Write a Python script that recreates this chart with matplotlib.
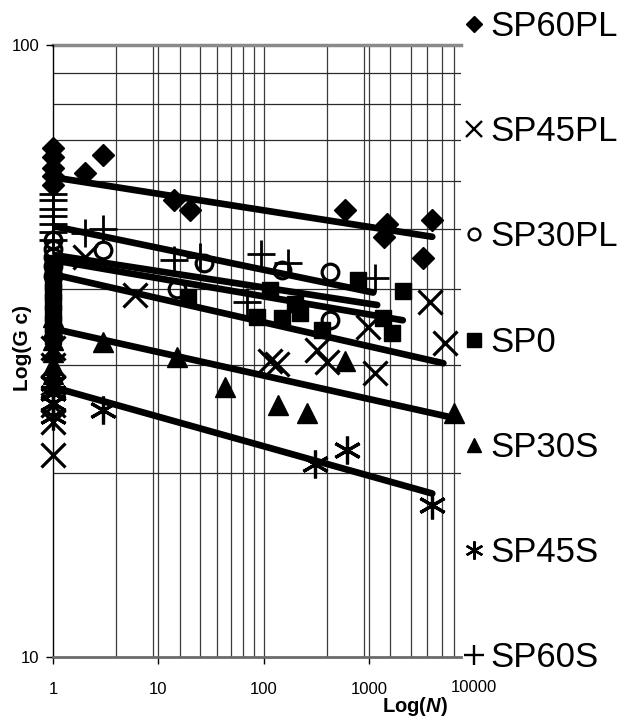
import matplotlib
matplotlib.use("Agg")
import matplotlib.pyplot as plt
from matplotlib.lines import Line2D
import numpy as np

plt.rcParams['font.family'] = ['Liberation Sans', 'DejaVu Sans']
plt.rcParams['mathtext.fontset'] = 'custom'
plt.rcParams['mathtext.rm'] = 'Liberation Sans:bold'
plt.rcParams['mathtext.it'] = 'Liberation Sans:bold:italic'
plt.rcParams['mathtext.bf'] = 'Liberation Sans:bold'

# ---------------- data ----------------
series_names = ["SP60PL", "SP45PL", "SP30PL", "SP0", "SP30S", "SP45S", "SP60S"]

sp60pl_n = [1, 1, 1, 1, 1, 2, 3, 14, 20, 590, 1400, 1500, 4000, 3300]
sp60pl_g = [68, 65.5, 63, 61, 59, 61.7, 66.1, 55.8, 53.7, 53.7, 48.5, 51.0, 51.8, 44.9]

sp45pl_n = [1, 1, 1, 1, 1, 1, 2, 6, 115, 133, 320, 400, 980, 1150, 3800, 5300]
sp45pl_g = [32, 30, 27.5, 25.8, 24.2, 21.4, 45, 39, 30.5, 30.1, 31.8, 30.3, 34.6, 29.1, 38, 32.6]

sp30pl_n = [1, 1, 1, 1, 1, 3, 15, 27, 150, 430, 430]
sp30pl_g = [48, 46.5, 45, 43.5, 42, 46.2, 40, 44.0, 42.9, 42.6, 35.5]

sp0_n = [1, 1, 1, 1, 1, 1, 1, 1, 19, 87, 115, 150, 200, 220, 360, 780, 1350, 1650, 2100]
sp0_g = [44, 42.5, 41, 39.5, 38, 36.5, 35, 33.5, 38.7, 35.9, 39.8, 35.8, 37.8, 36.5, 34.2, 41.3, 35.8, 33.9, 39.6]

sp30s_n = [1, 1, 1, 1, 1, 1, 1, 3, 15, 43, 137, 260, 590, 6500]
sp30s_g = [36, 34.5, 33, 31.5, 30, 29, 28, 32.7, 30.9, 27.6, 25.8, 25.0, 30.5, 25.0]

sp45s_n = [1, 1, 1, 1, 3, 310, 620, 4000]
sp45s_g = [28, 27, 26, 24.8, 25.3, 20.7, 21.8, 17.7]

sp60s_n = [1, 1, 1, 1, 1, 1, 1, 2, 3, 14, 25, 70, 95, 170, 1150]
sp60s_g = [57, 55.8, 54, 52.5, 51, 49.5, 48, 49.3, 50, 44.5, 45, 38, 45.5, 44, 41.6]

# power-law trend lines: value at N=1, last N, value at last N
trend_start = [60.8, 42.2, 45.4, 44.5, 34.4, 27.6, 50.6]
trend_end_n = [4000, 5100, 1200, 2100, 6300, 4000, 1100]
trend_end_g = [48.6, 30.2, 37.6, 35.5, 24.6, 18.5, 39.4]

x_tick_vals = [1, 10, 100, 1000, 10000]
x_grid_vals = [4, 9, 10, 16, 25, 36, 49, 64, 81, 100, 400, 900, 1000, 1600, 2500, 3600, 4900, 6400]
y_grid_vals = [20, 30, 40, 50, 60, 70, 80, 90]

# ---------------- figure ----------------
fig = plt.figure(figsize=(6.25, 7.2), dpi=100)
ax = fig.add_axes([53/625, 1-657/720, (461-53)/625, (657-45)/720])
ax.set_xscale('log')
ax.set_yscale('log')
ax.set_xlim(1, 7500)
ax.set_ylim(10, 100)

for gx in x_grid_vals:
    ax.axvline(gx, color='#3a3a3a', lw=0.9, zorder=0)
for gy in y_grid_vals:
    ax.axhline(gy, color='#2a2a2a', lw=0.9, zorder=0)
ax.axhline(100, color='#8a8a8a', lw=2.5, zorder=0, clip_on=False)

for s in ['top', 'right']:
    ax.spines[s].set_visible(False)
ax.spines['left'].set_color('black')
ax.spines['left'].set_linewidth(1.0)
ax.spines['bottom'].set_color('#6a6a6a')
ax.spines['bottom'].set_linewidth(2.0)

ax.set_xticks(x_tick_vals[:-1])
ax.set_xticklabels([str(v) for v in x_tick_vals[:-1]])
ax.annotate(str(x_tick_vals[-1]), xy=(x_tick_vals[-1], 10), xycoords='data',
            xytext=(0, -16.5), textcoords='offset points', ha='center', va='top',
            fontsize=12, annotation_clip=False)
ax.set_yticks([10, 100])
ax.set_yticklabels(['10', '100'])
ax.minorticks_off()
ax.tick_params(axis='both', which='major', direction='out', length=5, width=1,
               labelsize=12)
ax.tick_params(axis='x', pad=13)
ax.tick_params(axis='y', pad=5)

ax.set_ylabel('Log(G c)', fontsize=15, fontweight='bold')
ax.yaxis.set_label_coords(-0.052, 0.505)
fig.text(415/625, 1-707/720, r'Log($\mathit{N}$)', fontsize=14.5, fontweight='bold',
         ha='center', va='center')

lw_trend = 4.8
for g1, ne, ge in zip(trend_start, trend_end_n, trend_end_g):
    b = np.log(ge / g1) / np.log(ne)
    nn = np.array([1.0, ne])
    ax.plot(nn, g1 * nn ** b, color='black', lw=lw_trend, solid_capstyle='round', zorder=3)

asterisk = (6, 2, 0)
style = {
    "SP60PL": dict(marker='D', ms=11, mfc='black', mec='black', mew=1),
    "SP45PL": dict(marker='x', ms=17, mfc='none', mec='black', mew=2.3),
    "SP30PL": dict(marker='o', ms=12, mfc='none', mec='black', mew=2.3),
    "SP0": dict(marker='s', ms=11.5, mfc='black', mec='black', mew=1),
    "SP30S": dict(marker='^', ms=15, mfc='black', mec='black', mew=1),
    "SP45S": dict(marker=asterisk, ms=20, mfc='none', mec='black', mew=2.3),
    "SP60S": dict(marker='+', ms=20, mfc='none', mec='black', mew=2.0),
}
data = {
    "SP60PL": (sp60pl_n, sp60pl_g),
    "SP45PL": (sp45pl_n, sp45pl_g),
    "SP30PL": (sp30pl_n, sp30pl_g),
    "SP0": (sp0_n, sp0_g),
    "SP30S": (sp30s_n, sp30s_g),
    "SP45S": (sp45s_n, sp45s_g),
    "SP60S": (sp60s_n, sp60s_g),
}
for name in series_names:
    n, g = data[name]
    ax.plot(n, g, linestyle='none', color='black', clip_on=False, zorder=4, **style[name])

# legend
leg_ms = {"SP60PL": 8, "SP45PL": 12, "SP30PL": 8.5, "SP0": 10.5, "SP30S": 10.5, "SP45S": 13, "SP60S": 14}
handles = []
for name in series_names:
    st = dict(style[name])
    st['ms'] = leg_ms[name]
    st['mew'] = 1.7 if st['mfc'] == 'none' else 1
    handles.append(Line2D([], [], linestyle='none', color='black', **st))
leg = fig.legend(handles, series_names, loc='upper left', bbox_to_anchor=(464/625, 1 - 10/720),
                 frameon=False, fontsize=25, handlelength=0.6, handletextpad=0.15,
                 labelspacing=2.08, borderpad=0, borderaxespad=0)

fig.savefig('out.png', dpi=100)
